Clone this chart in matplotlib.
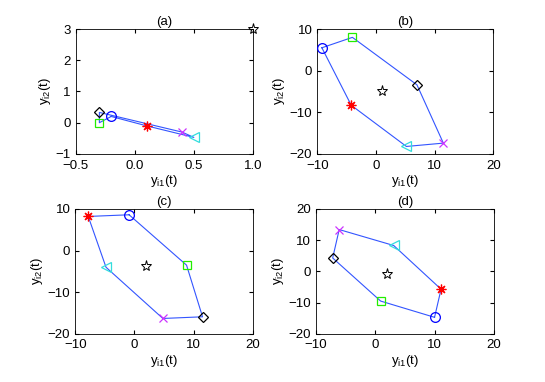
import numpy as np
import matplotlib
matplotlib.use('Agg')
import matplotlib.pyplot as plt

plt.rcParams['font.family'] = ['Liberation Sans', 'DejaVu Sans']
plt.rcParams['mathtext.fontset'] = 'custom'
plt.rcParams['mathtext.rm'] = 'Liberation Sans'
plt.rcParams['mathtext.it'] = 'Liberation Sans'

# agent order round the ring: circle, square, diamond, x, triangle, asterisk
titles = ['(a)', '(b)', '(c)', '(d)']
xa = [-0.2, -0.3, -0.3, 0.4, 0.5, 0.1]
ya = [0.2, 0.0, 0.33, -0.3, -0.47, -0.1]
xb = [-9.2, -4.0, 7.0, 11.5, 5.2, -4.2]
yb = [5.5, 8.0, -3.4, -17.4, -18.2, -8.3]
xc = [-0.9, 8.8, 11.5, 4.8, -4.8, -7.8]
yc = [8.6, -3.5, -15.9, -16.3, -4.0, 8.2]
xd = [10.0, 0.9, -7.2, -6.1, 3.1, 11.1]
yd = [-14.7, -9.5, 4.3, 13.4, 8.3, -5.7]
# centre (star) per panel
star_x = [1.0, 1.0, 2.0, 1.9]
star_y = [3.0, -5.0, -3.8, -0.7]

xlims = [(-0.5, 1), (-10, 20), (-10, 20), (-10, 20)]
ylims = [(-1, 3), (-20, 10), (-20, 10), (-20, 20)]
xticks = [[-0.5, 0, 0.5, 1], [-10, 0, 10, 20], [-10, 0, 10, 20], [-10, 0, 10, 20]]
yticks = [[-1, 0, 1, 2, 3], [-20, -10, 0, 10], [-20, -10, 0, 10], [-20, -10, 0, 10, 20]]

markers = ['o', 's', 'D', 'x', '<', (8, 2, 0)]
colors = ['#0000ff', '#22ee00', 'k', '#cc33ff', '#33dddd', 'r']
msizes = [7, 6, 5.5, 6, 7, 7]

positions = [[0.139, 0.597, 0.325, 0.327], [0.582, 0.597, 0.323, 0.327],
             [0.138, 0.126, 0.326, 0.327], [0.580, 0.126, 0.326, 0.327]]

fig = plt.figure(figsize=(5.45, 3.82), dpi=100)
data = [(xa, ya), (xb, yb), (xc, yc), (xd, yd)]

for k in range(4):
    ax = fig.add_axes(positions[k])
    xs, ys = data[k]
    ring_x = list(xs) + [xs[0]]
    ring_y = list(ys) + [ys[0]]
    ax.plot(ring_x, ring_y, '-', color='#3355ff', lw=0.8, zorder=2)
    for i in range(6):
        ax.plot(xs[i], ys[i], linestyle='none', marker=markers[i], ms=msizes[i],
                mfc='none', mec=colors[i], mew=0.9, zorder=3)
    ax.plot(star_x[k], star_y[k], linestyle='none', marker='*', ms=8,
            mfc='none', mec='k', mew=0.7, clip_on=False, zorder=3)
    ax.set_xlim(xlims[k])
    ax.set_ylim(ylims[k])
    ax.set_xticks(xticks[k])
    ax.set_yticks(yticks[k])
    ax.tick_params(direction='in', top=True, right=True, length=3, labelsize=9.5)
    ax.tick_params(axis='x', pad=4)
    ax.set_title(titles[k], fontsize=9.5, pad=3)
    ax.set_xlabel(r'$\mathregular{y_{i1}(t)}$', fontsize=9.5, labelpad=1)
    ax.set_ylabel(r'$\mathregular{y_{i2}(t)}$', fontsize=9.5, labelpad=2)
    for sp in ax.spines.values():
        sp.set_linewidth(0.6)

fig.savefig('out.png', dpi=100)
